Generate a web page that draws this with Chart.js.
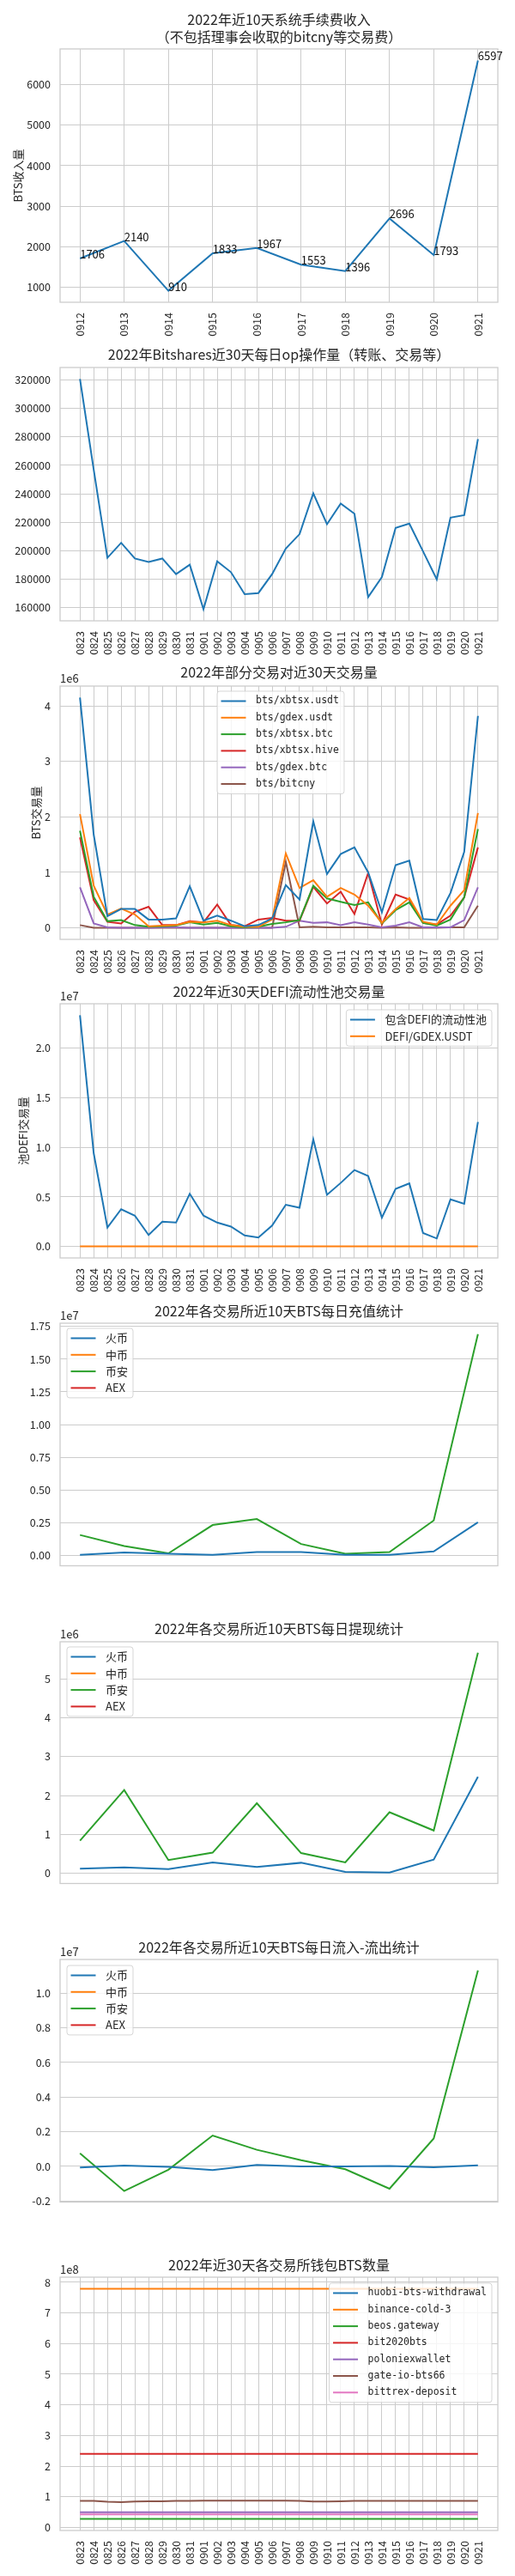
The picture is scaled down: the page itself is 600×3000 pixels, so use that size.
<!DOCTYPE html>
<html>
<head>
<meta charset="utf-8">
<script src="https://cdn.jsdelivr.net/npm/chart.js@4.4.0/dist/chart.umd.min.js"></script>
<style>
  html, body { margin: 0; padding: 0; background: #fff; }
  body { width: 600px; height: 3000px; position: relative; overflow: hidden; }
</style>
</head>
<body>
<script>
// ---- categories ----
const dates30 = ['0823','0824','0825','0826','0827','0828','0829','0830','0831','0901',
  '0902','0903','0904','0905','0906','0907','0908','0909','0910','0911',
  '0912','0913','0914','0915','0916','0917','0918','0919','0920','0921'];
const dates10 = ['0912','0913','0914','0915','0916','0917','0918','0919','0920','0921'];

// ---- 1. fee income ----
const feeIncome = [1706, 2140, 910, 1833, 1967, 1553, 1396, 2696, 1793, 6597];
const feeTicks = [1000, 2000, 3000, 4000, 5000, 6000];

// ---- 2. daily ops ----
const dailyOps = [320600, 257000, 195000, 205500, 194500, 192100, 194500, 183500, 190100, 158800,
  192500, 184900, 169400, 170200, 183500, 201500, 211600, 240300, 218600, 233100,
  226000, 167400, 181400, 216000, 219000, 199500, 179800, 223200, 225000, 278400];
const opsTicks = [160000, 180000, 200000, 220000, 240000, 260000, 280000, 300000, 320000];

// ---- 3. trading pairs ----
const xbtsxUsdt = [4150000, 1680000, 210000, 340000, 340000, 150000, 150000, 170000, 750000, 130000,
  220000, 130000, 30000, 50000, 170000, 770000, 510000, 1920000, 970000, 1330000,
  1450000, 1000000, 280000, 1130000, 1210000, 160000, 140000, 630000, 1370000, 3820000];
const gdexUsdt = [2050000, 760000, 240000, 350000, 240000, 30000, 40000, 50000, 110000, 100000,
  130000, 50000, 20000, 20000, 150000, 1340000, 720000, 860000, 560000, 720000,
  600000, 400000, 90000, 340000, 540000, 110000, 60000, 400000, 680000, 2070000];
const xbtsxBtc = [1750000, 560000, 120000, 140000, 50000, 20000, 30000, 40000, 100000, 60000,
  90000, 30000, 10000, 20000, 70000, 100000, 140000, 760000, 530000, 470000,
  410000, 460000, 80000, 320000, 460000, 90000, 40000, 150000, 550000, 1780000];
const xbtsxHive = [1630000, 500000, 110000, 80000, 290000, 380000, 50000, 50000, 120000, 100000,
  420000, 50000, 30000, 150000, 180000, 130000, 130000, 740000, 440000, 650000,
  250000, 990000, 60000, 600000, 510000, 90000, 60000, 220000, 550000, 1450000];
const gdexBtc = [730000, 80000, 10000, 0, 0, 0, 10000, 10000, 0, 0,
  0, 0, 0, 0, 0, 20000, 130000, 90000, 100000, 50000,
  100000, 60000, 10000, 40000, 100000, 10000, 10000, 10000, 140000, 730000];
const bitcny = [50000, 0, 0, 0, 0, 0, 0, 0, 0, 0,
  0, 0, 0, 0, 0, 1190000, 10000, 20000, 10000, 10000,
  10000, 10000, 0, 10000, 0, 0, 0, 10000, 10000, 400000];
const pairTicks = [0, 1000000, 2000000, 3000000, 4000000];

// ---- 4. DEFI pools ----
const defiPools = [23300000, 9400000, 1900000, 3750000, 3100000, 1150000, 2500000, 2400000, 5300000, 3100000,
  2400000, 2000000, 1100000, 900000, 2100000, 4200000, 3900000, 10800000, 5200000, 6400000,
  7700000, 7100000, 2900000, 5800000, 6350000, 1350000, 800000, 4750000, 4300000, 12550000];
const defiGdexUsdt = [0, 0, 0, 0, 0, 0, 0, 0, 0, 0, 0, 0, 0, 0, 0,
  0, 0, 0, 0, 0, 0, 0, 0, 0, 0, 0, 0, 0, 0, 0];
const defiTicks = [0, 5000000, 10000000, 15000000, 20000000];

// ---- 5. deposits ----
const depositHuobi = [60000, 230000, 130000, 60000, 270000, 270000, 60000, 60000, 310000, 2540000];
const depositZb = [];
const depositBinance = [1570000, 730000, 170000, 2330000, 2790000, 880000, 130000, 270000, 2680000, 16900000];
const depositAex = [];
const depositTicks = [0, 2500000, 5000000, 7500000, 10000000, 12500000, 15000000, 17500000];

// ---- 6. withdrawals ----
const withdrawHuobi = [120000, 150000, 110000, 280000, 160000, 270000, 35000, 20000, 350000, 2480000];
const withdrawZb = [];
const withdrawBinance = [840000, 2140000, 340000, 530000, 1800000, 520000, 280000, 1570000, 1100000, 5670000];
const withdrawAex = [];
const withdrawTicks = [0, 1000000, 2000000, 3000000, 4000000, 5000000];

// ---- 7. net flow ----
const netHuobi = [-60000, 50000, -30000, -210000, 90000, 0, 0, 30000, -50000, 60000];
const netZb = [];
const netBinance = [760000, -1420000, -190000, 1780000, 960000, 360000, -160000, -1290000, 1610000, 11300000];
const netAex = [];
const netTicks = [-2000000, 0, 2000000, 4000000, 6000000, 8000000, 10000000];

// ---- 8. wallets ----
const huobiWithdrawal = [];
const binanceCold3 = [779000000, 779000000, 779000000, 779000000, 779000000, 779000000, 779000000, 779000000, 779000000, 779000000,
  779000000, 779000000, 779000000, 779000000, 779000000, 779000000, 779000000, 779000000, 779000000, 779000000,
  779000000, 779000000, 779000000, 779000000, 779000000, 779000000, 779000000, 779000000, 779000000, 779000000];
const beosGateway = [27500000, 27500000, 27500000, 27500000, 27500000, 27500000, 27500000, 27500000, 27500000, 27500000,
  27500000, 27500000, 27500000, 27500000, 27500000, 27500000, 27500000, 27500000, 27500000, 27500000,
  27500000, 27500000, 27500000, 27500000, 27500000, 27500000, 27500000, 27500000, 27500000, 27500000];
const bit2020bts = [240000000, 240000000, 240000000, 240000000, 240000000, 240000000, 240000000, 240000000, 240000000, 240000000,
  240000000, 240000000, 240000000, 240000000, 240000000, 240000000, 240000000, 240000000, 240000000, 240000000,
  240000000, 240000000, 240000000, 240000000, 240000000, 240000000, 240000000, 240000000, 240000000, 240000000];
const poloniexWallet = [49200000, 49200000, 49200000, 49200000, 49200000, 49200000, 49200000, 49200000, 49200000, 49200000,
  49200000, 49200000, 49200000, 49200000, 49200000, 49200000, 49200000, 49200000, 49200000, 49200000,
  49200000, 49200000, 49200000, 49200000, 49200000, 49200000, 49200000, 49200000, 49200000, 49200000];
const gateIoBts66 = [86400000, 86400000, 83600000, 82600000, 84500000, 85400000, 85400000, 86400000, 86400000, 87300000,
  87300000, 87300000, 87300000, 87300000, 87300000, 87300000, 86400000, 84500000, 84500000, 85400000,
  86400000, 86400000, 86400000, 86400000, 86400000, 86400000, 86400000, 86400000, 86400000, 86400000];
const bittrexDeposit = [42700000, 42700000, 42700000, 42700000, 42700000, 42700000, 42700000, 42700000, 42700000, 42700000,
  42700000, 42700000, 42700000, 42700000, 42700000, 42700000, 42700000, 42700000, 42700000, 42700000,
  42700000, 42700000, 42700000, 42700000, 42700000, 42700000, 42700000, 42700000, 42700000, 42700000];
const walletTicks = [0, 100000000, 200000000, 300000000, 400000000, 500000000, 600000000, 700000000, 800000000];

// ---- styling ----
const INK = '#262626';
const GRID = '#cccccc';
const TAB = ['#1f77b4', '#ff7f0e', '#2ca02c', '#d62728', '#9467bd', '#8c564b', '#e377c2'];
const CJK = "'Noto Sans CJK SC', 'DejaVu Sans', sans-serif";
const MONO = "'DejaVu Sans Mono', 'Noto Sans CJK SC', monospace";

Chart.defaults.font.family = CJK;
Chart.defaults.color = INK;
Chart.defaults.animation = false;

function roundRect(ctx, x, y, w, h, r) {
  ctx.beginPath();
  ctx.moveTo(x + r, y);
  ctx.lineTo(x + w - r, y);
  ctx.quadraticCurveTo(x + w, y, x + w, y + r);
  ctx.lineTo(x + w, y + h - r);
  ctx.quadraticCurveTo(x + w, y + h, x + w - r, y + h);
  ctx.lineTo(x + r, y + h);
  ctx.quadraticCurveTo(x, y + h, x, y + h - r);
  ctx.lineTo(x, y + r);
  ctx.quadraticCurveTo(x, y, x + r, y);
  ctx.closePath();
}

// axes frame (all four spines)
const framePlugin = {
  id: 'frame',
  beforeDatasetsDraw(c) {
    const a = c.chartArea, ctx = c.ctx;
    ctx.save();
    ctx.strokeStyle = GRID;
    ctx.lineWidth = 1.3;
    ctx.strokeRect(a.left, a.top, a.right - a.left, a.bottom - a.top);
    ctx.restore();
  }
};

// boxed legend like matplotlib's
function boxLegend(pos) {
  return {
    id: 'boxLegend',
    afterDatasetsDraw(c) {
      const ctx = c.ctx, a = c.chartArea, ds = c.data.datasets;
      ctx.save();
      ctx.font = pos.font;
      const tw = Math.max(...ds.map(d => ctx.measureText(d.label).width));
      const w = 45 + tw + 6, h = 23 + (ds.length - 1) * 19.3;
      const left = pos.right != null ? pos.right - w : pos.left;
      const top = a.top + pos.dy;
      roundRect(ctx, left, top, w, h, 3);
      ctx.fillStyle = 'rgba(255,255,255,0.8)';
      ctx.fill();
      ctx.strokeStyle = 'rgba(204,204,204,0.8)';
      ctx.lineWidth = 1;
      ctx.stroke();
      ds.forEach((d, i) => {
        const y = top + 11.5 + i * 19.3;
        ctx.strokeStyle = d.borderColor;
        ctx.lineWidth = 2;
        ctx.beginPath();
        ctx.moveTo(left + 4.5, y);
        ctx.lineTo(left + 33.5, y);
        ctx.stroke();
        ctx.fillStyle = INK;
        ctx.textAlign = 'left';
        ctx.textBaseline = 'middle';
        ctx.fillText(d.label, left + 45, y);
      });
      ctx.restore();
    }
  };
}

// "1e6" style offset text
function offsetText(t) {
  return {
    id: 'offsetText',
    afterDraw(c) {
      const ctx = c.ctx, a = c.chartArea;
      ctx.save();
      ctx.font = '13px ' + CJK;
      ctx.fillStyle = INK;
      ctx.textAlign = 'left';
      ctx.textBaseline = 'middle';
      ctx.fillText(t, a.left, a.top - 9);
      ctx.restore();
    }
  };
}

// value annotations at each point
const valueLabels = {
  id: 'valueLabels',
  afterDatasetsDraw(c) {
    const ctx = c.ctx;
    const meta = c.getDatasetMeta(0);
    const vals = c.data.datasets[0].data;
    ctx.save();
    ctx.font = '13px ' + CJK;
    ctx.fillStyle = '#111';
    ctx.textAlign = 'left';
    ctx.textBaseline = 'alphabetic';
    meta.data.forEach((pt, i) => ctx.fillText(String(vals[i].y), pt.x, pt.y));
    ctx.restore();
  }
};

function makeChart(o) {
  const lines = Array.isArray(o.title) ? o.title.length : 1;
  const padBottom = o.plotTop - o.top - 4 - lines * 20;
  const height = o.plotBottom - o.top + o.xH;
  const wrap = document.createElement('div');
  wrap.style.cssText = 'position:absolute;left:0;top:' + o.top + 'px;width:600px;height:' + height + 'px';
  const cv = document.createElement('canvas');
  wrap.appendChild(cv);
  document.body.appendChild(wrap);

  const n = o.labels.length;
  const all = o.series.flatMap(s => s.data).filter(v => v != null);
  const lo = Math.min(...all), hi = Math.max(...all), m = (hi - lo) * 0.05;

  const plugins = [framePlugin].concat(o.plugins || []);

  return new Chart(cv, {
    type: 'line',
    data: {
      datasets: o.series.map(s => ({
        label: s.label,
        data: s.data.map((v, i) => ({ x: i, y: v })),
        borderColor: s.color,
        backgroundColor: s.color,
        borderWidth: 2,
        pointRadius: 0,
        tension: 0,
        fill: false
      }))
    },
    options: {
      responsive: true,
      maintainAspectRatio: false,
      animation: false,
      layout: { padding: { left: 0, right: 20, top: 0, bottom: 0 } },
      plugins: {
        legend: { display: false },
        tooltip: { enabled: false },
        title: {
          display: true,
          text: o.title,
          color: INK,
          fullSize: false,
          font: { size: 16, weight: 'normal', lineHeight: 1.25 },
          padding: { top: 4, bottom: padBottom }
        }
      },
      scales: {
        x: {
          type: 'linear',
          min: -0.05 * (n - 1),
          max: 1.05 * (n - 1),
          afterBuildTicks: s => { s.ticks = o.labels.map((_, i) => ({ value: i })); },
          afterFit: s => { s.height = o.xH; },
          grid: { display: o.showX, color: GRID, lineWidth: 1, drawTicks: false },
          border: { display: false },
          ticks: {
            display: o.showX,
            autoSkip: false,
            minRotation: 90,
            maxRotation: 90,
            padding: 12,
            color: INK,
            font: { size: 12.5 },
            callback: v => o.labels[v]
          }
        },
        y: {
          type: 'linear',
          min: lo - m,
          max: hi + m,
          afterBuildTicks: s => { s.ticks = o.yTicks.map(v => ({ value: v })); },
          afterFit: s => { s.width = 70; },
          grid: { color: GRID, lineWidth: 1, drawTicks: false },
          border: { display: false },
          ticks: { padding: 11, color: INK, font: { size: 12.5 }, callback: o.yFmt },
          title: o.yTitle
            ? { display: true, text: o.yTitle, color: INK, font: { size: 13 }, padding: { top: o.yTitleX - 7.8, bottom: 0 } }
            : { display: false }
        }
      }
    },
    plugins: plugins
  });
}

// 1
makeChart({
  top: 9, plotTop: 57, plotBottom: 352, xH: 45, showX: true,
  title: ['2022年近10天系统手续费收入', '（不包括理事会收取的bitcny等交易费）'],
  labels: dates10,
  series: [{ label: 'BTS收入量', data: feeIncome, color: TAB[0] }],
  yTicks: feeTicks, yFmt: v => String(v),
  yTitle: 'BTS收入量', yTitleX: 21,
  plugins: [valueLabels]
});

// 2
makeChart({
  top: 399, plotTop: 428, plotBottom: 723, xH: 45, showX: true,
  title: '2022年Bitshares近30天每日op操作量（转账、交易等）',
  labels: dates30,
  series: [{ label: 'op', data: dailyOps, color: TAB[0] }],
  yTicks: opsTicks, yFmt: v => String(v)
});

// 3
makeChart({
  top: 769, plotTop: 799, plotBottom: 1094, xH: 45, showX: true,
  title: '2022年部分交易对近30天交易量',
  labels: dates30,
  series: [
    { label: 'bts/xbtsx.usdt', data: xbtsxUsdt, color: TAB[0] },
    { label: 'bts/gdex.usdt', data: gdexUsdt, color: TAB[1] },
    { label: 'bts/xbtsx.btc', data: xbtsxBtc, color: TAB[2] },
    { label: 'bts/xbtsx.hive', data: xbtsxHive, color: TAB[3] },
    { label: 'bts/gdex.btc', data: gdexBtc, color: TAB[4] },
    { label: 'bts/bitcny', data: bitcny, color: TAB[5] }
  ],
  yTicks: pairTicks, yFmt: v => String(Math.round(v / 1e6)),
  yTitle: 'BTS交易量', yTitleX: 42,
  plugins: [offsetText('1e6'), boxLegend({ left: 253, dy: 6, font: '11.5px ' + MONO })]
});

// 4
makeChart({
  top: 1141, plotTop: 1169, plotBottom: 1465, xH: 45, showX: true,
  title: '2022年近30天DEFI流动性池交易量',
  labels: dates30,
  series: [
    { label: '包含DEFI的流动性池', data: defiPools, color: TAB[0] },
    { label: 'DEFI/GDEX.USDT', data: defiGdexUsdt, color: TAB[1] }
  ],
  yTicks: defiTicks, yFmt: v => (v / 1e7).toFixed(1),
  yTitle: '池DEFI交易量', yTitleX: 27,
  plugins: [offsetText('1e7'), boxLegend({ right: 573, dy: 7, font: '13px ' + CJK })]
});

const exchangeNames = ['火币', '中币', '币安', 'AEX'];

// 5
makeChart({
  top: 1513, plotTop: 1541, plotBottom: 1836, xH: 6, showX: false,
  title: '2022年各交易所近10天BTS每日充值统计',
  labels: dates10,
  series: [
    { label: exchangeNames[0], data: depositHuobi, color: TAB[0] },
    { label: exchangeNames[1], data: depositZb, color: TAB[1] },
    { label: exchangeNames[2], data: depositBinance, color: TAB[2] },
    { label: exchangeNames[3], data: depositAex, color: TAB[3] }
  ],
  yTicks: depositTicks, yFmt: v => (v / 1e7).toFixed(2),
  plugins: [offsetText('1e7'), boxLegend({ left: 78, dy: 6, font: '13px ' + CJK })]
});

// 6
makeChart({
  top: 1883, plotTop: 1912, plotBottom: 2206, xH: 6, showX: false,
  title: '2022年各交易所近10天BTS每日提现统计',
  labels: dates10,
  series: [
    { label: exchangeNames[0], data: withdrawHuobi, color: TAB[0] },
    { label: exchangeNames[1], data: withdrawZb, color: TAB[1] },
    { label: exchangeNames[2], data: withdrawBinance, color: TAB[2] },
    { label: exchangeNames[3], data: withdrawAex, color: TAB[3] }
  ],
  yTicks: withdrawTicks, yFmt: v => String(Math.round(v / 1e6)),
  plugins: [offsetText('1e6'), boxLegend({ left: 78, dy: 6, font: '13px ' + CJK })]
});

// 7
makeChart({
  top: 2254, plotTop: 2282, plotBottom: 2577, xH: 6, showX: false,
  title: '2022年各交易所近10天BTS每日流入-流出统计',
  labels: dates10,
  series: [
    { label: exchangeNames[0], data: netHuobi, color: TAB[0] },
    { label: exchangeNames[1], data: netZb, color: TAB[1] },
    { label: exchangeNames[2], data: netBinance, color: TAB[2] },
    { label: exchangeNames[3], data: netAex, color: TAB[3] }
  ],
  yTicks: netTicks, yFmt: v => (v / 1e7).toFixed(1),
  plugins: [offsetText('1e7'), boxLegend({ left: 78, dy: 7, font: '13px ' + CJK })]
});

// 8
makeChart({
  top: 2624, plotTop: 2652, plotBottom: 2947, xH: 50, showX: true,
  title: '2022年近30天各交易所钱包BTS数量',
  labels: dates30,
  series: [
    { label: 'huobi-bts-withdrawal', data: huobiWithdrawal, color: TAB[0] },
    { label: 'binance-cold-3', data: binanceCold3, color: TAB[1] },
    { label: 'beos.gateway', data: beosGateway, color: TAB[2] },
    { label: 'bit2020bts', data: bit2020bts, color: TAB[3] },
    { label: 'poloniexwallet', data: poloniexWallet, color: TAB[4] },
    { label: 'gate-io-bts66', data: gateIoBts66, color: TAB[5] },
    { label: 'bittrex-deposit', data: bittrexDeposit, color: TAB[6] }
  ],
  yTicks: walletTicks, yFmt: v => String(Math.round(v / 1e8)),
  plugins: [offsetText('1e8'), boxLegend({ right: 573, dy: 7, font: '11.5px ' + MONO })]
});
</script>
</body>
</html>
